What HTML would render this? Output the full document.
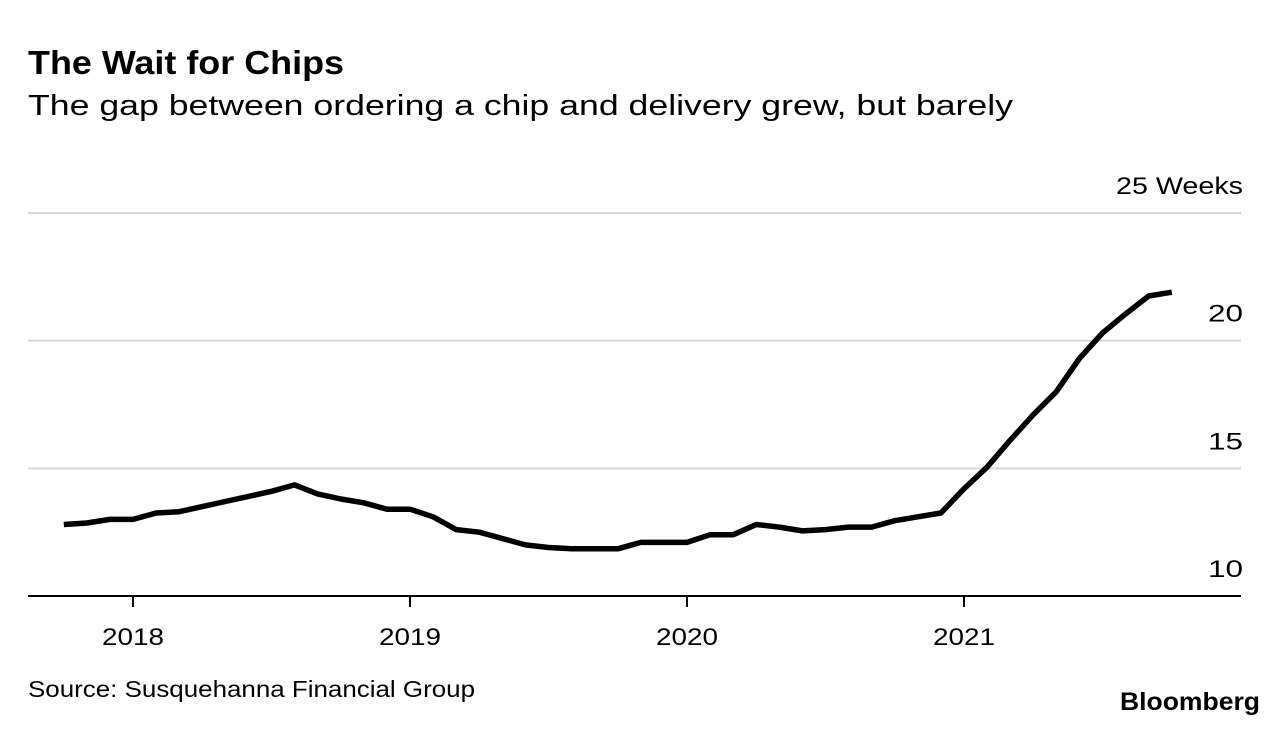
<!DOCTYPE html>
<html><head><meta charset="utf-8"><style>
html,body{margin:0;padding:0;background:#fff;}
body{width:1288px;height:728px;overflow:hidden;font-family:"Liberation Sans",sans-serif;color:#000;}
</style></head><body>
<svg width="1288" height="728" xmlns="http://www.w3.org/2000/svg">
<text x="28" y="74" font-size="33" font-weight="bold" textLength="316" lengthAdjust="spacingAndGlyphs" font-family="Liberation Sans, sans-serif">The Wait for Chips</text>
<text x="28" y="115" font-size="29" textLength="985" lengthAdjust="spacingAndGlyphs" font-family="Liberation Sans, sans-serif">The gap between ordering a chip and delivery grew, but barely</text>
<g id="grid"></g>
<g id="xaxis"></g>
<path id="line" fill="none" stroke="#000" stroke-width="5.5" stroke-linejoin="round" stroke-linecap="butt"></path>
<text x="28" y="697" font-size="23" textLength="447" lengthAdjust="spacingAndGlyphs" font-family="Liberation Sans, sans-serif">Source: Susquehanna Financial Group</text>
<text x="1120" y="710" font-size="25" font-weight="bold" textLength="140" lengthAdjust="spacingAndGlyphs" font-family="Liberation Sans, sans-serif">Bloomberg</text>
</svg>
<script>
const months = [-3,-2,-1,0,1,2,3,4,5,6,7,8,9,10,11,12,13,14,15,16,17,18,19,20,21,22,23,24,25,26,27,28,29,30,31,32,33,34,35,36,37,38,39,40,41,42,43,44,45];
const weeks = [12.8,12.86,13.0,13.0,13.25,13.3,13.5,13.7,13.9,14.1,14.35,14.0,13.8,13.65,13.4,13.4,13.1,12.6,12.5,12.25,12.0,11.9,11.85,11.85,11.85,12.1,12.1,12.1,12.4,12.4,12.8,12.7,12.55,12.6,12.7,12.7,12.95,13.1,13.25,14.2,15.05,16.1,17.1,18.0,19.3,20.3,21.05,21.75,21.9];
const yTicks = [10,15,20,25];
const yTickLabels = ["10","15","20","25 Weeks"];
const xYears = [2018,2019,2020,2021];

const NS="http://www.w3.org/2000/svg";
function xScale(m){return 133 + m*(964-133)/36;}
function yScale(v){return 596 - (v-10)*(596-213)/15;}
const grid=document.getElementById('grid');
yTicks.forEach((t,i)=>{
  const y=yScale(t);
  if(t!==10){
    const l=document.createElementNS(NS,'line');
    l.setAttribute('x1',28);l.setAttribute('x2',1241);l.setAttribute('y1',y);l.setAttribute('y2',y);
    l.setAttribute('stroke','#d9d9d9');l.setAttribute('stroke-width','2');
    
    
    grid.appendChild(l);
  }
  const tx=document.createElementNS(NS,'text');
  tx.setAttribute('x',1243);tx.setAttribute('y',y-19);
  tx.setAttribute('text-anchor','end');tx.setAttribute('font-size','24');
  const w = yTickLabels[i].length>3 ? 127 : 35;
  tx.setAttribute('textLength', w);
  tx.setAttribute('lengthAdjust','spacingAndGlyphs');
  tx.textContent=yTickLabels[i];
  
  
  grid.appendChild(tx);
});
const xa=document.getElementById('xaxis');
const base=document.createElementNS(NS,'line');
base.setAttribute('x1',28);base.setAttribute('x2',1241);base.setAttribute('y1',596);base.setAttribute('y2',596);
base.setAttribute('stroke','#000');base.setAttribute('stroke-width','2');


xa.appendChild(base);
xYears.forEach(yr=>{
  const x=xScale((yr-2018)*12);
  const tk=document.createElementNS(NS,'line');
  tk.setAttribute('x1',x);tk.setAttribute('x2',x);tk.setAttribute('y1',596);tk.setAttribute('y2',607);
  tk.setAttribute('stroke','#000');tk.setAttribute('stroke-width','2');
  
  
  xa.appendChild(tk);
  const tx=document.createElementNS(NS,'text');
  tx.setAttribute('x',x);tx.setAttribute('y',645);tx.setAttribute('text-anchor','middle');tx.setAttribute('font-size','24');
  tx.setAttribute('textLength',62);tx.setAttribute('lengthAdjust','spacingAndGlyphs');
  tx.textContent=yr;
  
  
  xa.appendChild(tx);
});
let d='';
months.forEach((m,i)=>{d+=(i?'L':'M')+xScale(m).toFixed(1)+' '+yScale(weeks[i]).toFixed(1);});
document.getElementById('line').setAttribute('d',d);
</script>
</body></html>
